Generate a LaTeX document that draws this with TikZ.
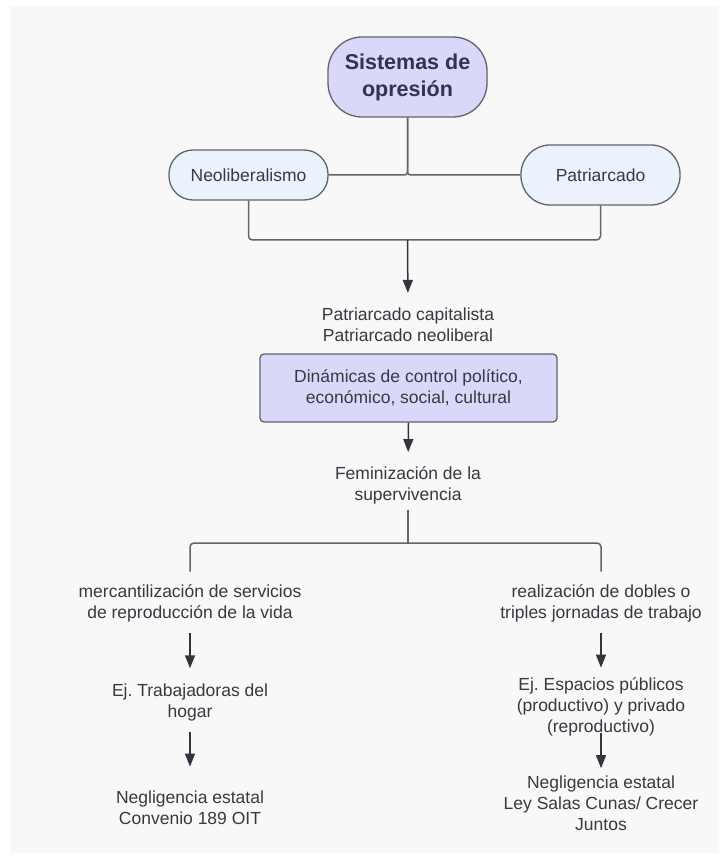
\documentclass[tikz,border=0pt]{standalone}
\usepackage{fontspec}
\setmainfont{Liberation Sans}
\usetikzlibrary{arrows.meta}
\frenchspacing
\definecolor{panel}{RGB}{248,248,248}
\definecolor{lav}{RGB}{218,216,248}
\definecolor{pale}{RGB}{236,242,252}
\definecolor{edge}{RGB}{98,98,108}
\definecolor{ink}{RGB}{56,56,66}
\definecolor{tipc}{RGB}{52,52,62}
\tikzset{
  txt/.style={font=\fontsize{17.5}{21}\selectfont\frenchspacing, text=ink, align=center, inner sep=0pt},
  pill/.style={draw=edge, line width=1.3pt, fill=pale, txt, minimum width=159pt},
  conn/.style={draw=edge, line width=1.5pt},
  arr/.style={conn, -{Triangle[width=10pt,length=13pt]}, color=tipc},
}
\begin{document}
\begin{tikzpicture}[x=1pt,y=-1pt]
\useasboundingbox (0,0) rectangle (727,858);
\fill[white] (0,0) rectangle (727,858);
\fill[panel] (10,6) rectangle (719,853);

\node[draw=edge, line width=1.3pt, fill=lav, rounded corners=34pt, minimum width=159pt, minimum height=80pt,
      font=\fontsize{21.5}{27}\selectfont\bfseries, text=ink!90!blue, align=center] (top) at (407.5,77) {Sistemas de\\opresión};
\node[pill, minimum height=50pt, rounded corners=24pt] (neo) at (248.5,175) {Neoliberalismo};
\node[pill, minimum height=60pt, rounded corners=29pt] (pat) at (600.5,175) {Patriarcado};

\coordinate (hub2) at (407.5,240);
\draw[conn, rounded corners=3pt] (top.south) |- (neo.east);
\draw[conn, rounded corners=3pt] (top.south) |- (pat.west);
\draw[conn, rounded corners=4pt] (neo.south) |- (hub2) -| (pat.south);

\node[txt] (pc) at (408,325) {Patriarcado capitalista\\Patriarcado neoliberal};
\draw[arr, shorten >=15pt] (hub2) -- (pc.north);

\node[draw=edge, line width=1.3pt, fill=lav, rounded corners=4pt, minimum width=297pt, minimum height=68pt, txt] (din) at (408.5,388)
  {Dinámicas de control político,\\económico, social, cultural};
\node[txt] (fem) at (408,485) {Feminización de la\\supervivencia};
\draw[arr, shorten >=14pt] (din.south) -- (fem.north);

\node[txt] (merc) at (190,603) {mercantilización de servicios\\de reproducción de la vida};
\node[txt] (real) at (601,603) {realización de dobles o\\triples jornadas de trabajo};
\coordinate (hub3) at (408,543);
\draw[conn, shorten <=6pt] (fem.south) -- (hub3);
\draw[conn, rounded corners=4pt, shorten >=12.5pt] (hub3) -| (merc.north);
\draw[conn, rounded corners=4pt, shorten >=12.5pt] (hub3) -| (real.north);

\node[txt] (ej1) at (190,702.5) {Ej. Trabajadoras del\\hogar};
\node[txt] (neg1) at (190,807.7) {Negligencia estatal\\Convenio 189 OIT};
\node[txt] (ej2) at (601,706.5) {Ej. Espacios públicos\\(productivo) y privado\\(reproductivo)};
\node[txt] (neg2) at (601,803.2) {Negligencia estatal\\Ley Salas Cunas/ Crecer\\Juntos};

\draw[arr, shorten <=11pt, shorten >=15.4pt] (merc.south) -- (ej1.north);
\draw[arr, shorten <=11pt, shorten >=24pt] (ej1.south) -- (neg1.north);
\draw[arr, shorten <=11pt, shorten >=9.4pt] (real.south) -- (ej2.north);
\draw[arr, shorten <=-3pt, shorten >=7.4pt] (ej2.south) -- (neg2.north);
\end{tikzpicture}
\end{document}
